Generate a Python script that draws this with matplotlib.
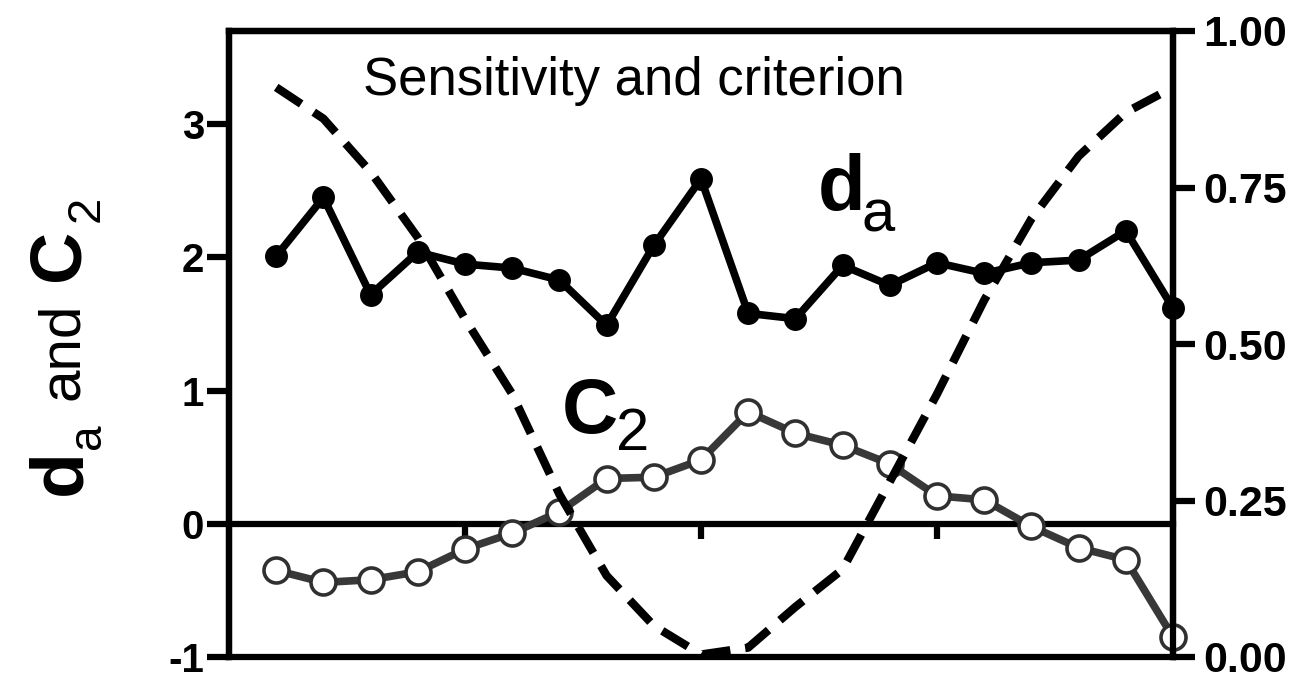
import matplotlib
matplotlib.use("Agg")
import matplotlib.pyplot as plt

plt.rcParams['font.family'] = ['Liberation Sans', 'DejaVu Sans']
plt.rcParams['axes.unicode_minus'] = False

# stimulus position, 1..20
position = list(range(1, 21))
# sensitivity d_a (left axis)
d_a = [2.01, 2.45, 1.72, 2.04, 1.95, 1.92, 1.83, 1.49, 2.09, 2.59,
       1.58, 1.54, 1.94, 1.79, 1.96, 1.88, 1.96, 1.98, 2.20, 1.62]
# criterion C_2 (left axis)
c_2 = [-0.35, -0.44, -0.42, -0.36, -0.19, -0.07, 0.09, 0.34, 0.35, 0.48,
       0.84, 0.68, 0.59, 0.45, 0.21, 0.18, -0.02, -0.18, -0.27, -0.85]
# proportion (right axis, dashed)
proportion = [0.91, 0.86, 0.775, 0.67, 0.54, 0.42, 0.26, 0.13, 0.05, 0.004,
              0.015, 0.08, 0.14, 0.28, 0.42, 0.57, 0.70, 0.80, 0.87, 0.91]

left_ticks = [-1, 0, 1, 2, 3]
right_ticks = [0.0, 0.25, 0.5, 0.75, 1.0]
right_labels = ['0.00', '0.25', '0.50', '0.75', '1.00']

W, H = 1305, 679
fig = plt.figure(figsize=(W / 100, H / 100), dpi=100)


def fp(x, y):
    return x / W, 1 - y / H


ax = fig.add_axes([229 / W, (H - 657) / H, (1173 - 229) / W, (657 - 31) / H])
ax2 = ax.twinx()

ax.plot(position, d_a, color='black', lw=5.5, marker='o', ms=15.5,
        mfc='black', mec='black', clip_on=False, zorder=3)
ax.plot(position, c_2, color='#383838', lw=5.5, marker='o', ms=18,
        mfc='white', mec='#303030', mew=2.6, clip_on=False, zorder=3)
ax2.plot(position, proportion, color='black', lw=6, dashes=(3.6, 1.8),
         clip_on=False)

ax.set_xlim(0, 20)
ax.set_ylim(-1, 3.7)
ax2.set_ylim(0, 1)

# zero line carries the x ticks
ax.spines['bottom'].set_position(('data', 0))
for s in ax.spines.values():
    s.set_linewidth(4.5)
for s in ax2.spines.values():
    s.set_linewidth(4.5)

ax.set_xticks([5, 10, 15])
ax.tick_params(axis='x', direction='out', length=11, width=4.5,
               labelbottom=False)
ax.set_yticks(left_ticks)
ax.set_yticklabels([str(t) for t in left_ticks])
ax.tick_params(axis='y', direction='out', length=16, width=4.5, pad=2,
               labelsize=29)
for t in ax.get_yticklabels():
    t.set_fontweight('bold')

ax2.set_yticks(right_ticks)
ax2.set_yticklabels(right_labels)
ax2.tick_params(axis='y', direction='out', length=16, width=4.5, pad=6,
                labelsize=31)
for t in ax2.get_yticklabels():
    t.set_fontweight('bold')

# title inside the frame
fig.text(*fp(363, 95), 'Sensitivity and criterion', fontsize=38,
         ha='left', va='baseline')

# curve labels
fig.text(*fp(818, 210), 'd', fontsize=56, fontweight='bold',
         ha='left', va='baseline')
fig.text(*fp(862, 232), 'a', fontsize=43, ha='left', va='baseline')
fig.text(*fp(562, 433), 'C', fontsize=56, fontweight='bold',
         ha='left', va='baseline')
fig.text(*fp(616, 450), '2', fontsize=43, ha='left', va='baseline')

# rotated y label built from pieces
pieces = [
    ('d', 80, 495, 54, 'bold'),
    ('a', 100, 449, 33, 'normal'),
    ('and', 78, 400, 42, 'normal'),
    ('C', 78, 281, 52, 'bold'),
    ('2', 99, 222, 34, 'normal'),
]
for txt, bx, by, size, weight in pieces:
    fig.text(*fp(bx, by), txt, fontsize=size, fontweight=weight,
             rotation=90, rotation_mode='anchor', ha='left', va='baseline')

fig.savefig('out.png', dpi=100)
